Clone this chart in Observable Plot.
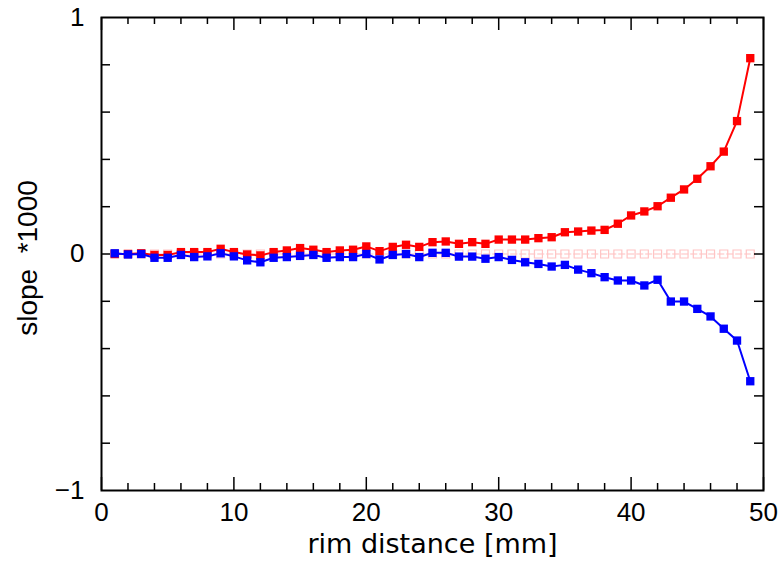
<!DOCTYPE html>
<html>
<head>
<meta charset="utf-8">
<script src="https://cdn.jsdelivr.net/npm/d3@7"></script>
<script src="https://cdn.jsdelivr.net/npm/@observablehq/plot@0.6"></script>
<style>
  html, body { margin: 0; padding: 0; background: #fff; }
  #chart svg { display: block; }
</style>
</head>
<body>
<div id="chart"></div>
<script>
const distance = [1,2,3,4,5,6,7,8,9,10,11,12,13,14,15,16,17,18,19,20,21,22,23,24,25,26,27,28,29,30,31,32,33,34,35,36,37,38,39,40,41,42,43,44,45,46,47,48,49];
const redSlope = [0,0,0.003,-0.004,-0.004,0.008,0.008,0.008,0.022,0.008,
  -0.002,-0.006,0.008,0.015,0.025,0.018,0.008,0.015,0.018,0.032,
  0.012,0.03,0.039,0.03,0.05,0.053,0.043,0.05,0.043,0.061,
  0.061,0.061,0.067,0.071,0.092,0.095,0.099,0.102,0.128,0.163,
  0.18,0.202,0.238,0.273,0.318,0.371,0.433,0.562,0.828];
const blueSlope = [0.003,-0.002,0,-0.016,-0.016,-0.004,-0.013,-0.01,0.003,-0.01,
  -0.027,-0.035,-0.016,-0.013,-0.008,-0.004,-0.016,-0.013,-0.013,0,
  -0.023,-0.004,0,-0.013,0.005,0.005,-0.011,-0.011,-0.02,-0.013,
  -0.025,-0.035,-0.042,-0.053,-0.046,-0.066,-0.081,-0.098,-0.112,-0.112,
  -0.133,-0.109,-0.201,-0.201,-0.232,-0.264,-0.316,-0.366,-0.538];
const refSlope = distance.map(() => 0);
const xMajor = [0,10,20,30,40,50];
const xMinor = [2,4,6,8,12,14,16,18,22,24,26,28,32,34,36,38,42,44,46,48];
const yTicks = [-0.8,-0.6,-0.4,-0.2,0,0.2,0.4,0.6,0.8];
const yLabels = [-1,0,1];
const xTitle = "rim distance [mm]";
const yTitle = "slope  *1000";

const red = distance.map((d, i) => ({x: d, y: redSlope[i]}));
const blue = distance.map((d, i) => ({x: d, y: blueSlope[i]}));
const ref = distance.map((d, i) => ({x: d, y: refSlope[i]}));

const W = 782, H = 563, mL = 101, mR = 19, mT = 17, mB = 73;
const fh = H - mT - mB;

const chart = Plot.plot({
  width: W, height: H,
  marginLeft: mL, marginRight: mR, marginTop: mT, marginBottom: mB,
  style: {fontFamily: "Liberation Sans, Arial, sans-serif", background: "white", color: "black"},
  x: {domain: [0, 50], label: null},
  y: {domain: [-1, 1], label: null},
  marks: [
    // faint reference series
    Plot.line(ref, {x: "x", y: "y", stroke: "#ffd4d4", strokeWidth: 1.5, strokeDasharray: "6,3"}),
    Plot.dot(ref, {x: "x", y: "y", symbol: "square", r: 4.5, stroke: "#ffc4c4", strokeWidth: 1.2, fill: "none"}),
    // series
    Plot.line(red, {x: "x", y: "y", stroke: "#ff0000", strokeWidth: 2}),
    Plot.dot(red, {x: "x", y: "y", symbol: "square", r: 4.7, fill: "#ff0000"}),
    Plot.line(blue, {x: "x", y: "y", stroke: "#0000ff", strokeWidth: 2}),
    Plot.dot(blue, {x: "x", y: "y", symbol: "square", r: 4.7, fill: "#0000ff"}),
    // inner ticks, bottom & top
    Plot.tickX(xMinor, {x: d => d, insetTop: fh - 7, stroke: "black", strokeWidth: 1.5}),
    Plot.tickX(xMajor, {x: d => d, insetTop: fh - 13, stroke: "black", strokeWidth: 1.5}),
    Plot.tickX(xMinor, {x: d => d, insetBottom: fh - 7, stroke: "black", strokeWidth: 1.5}),
    Plot.tickX(xMajor, {x: d => d, insetBottom: fh - 13, stroke: "black", strokeWidth: 1.5}),
    // inner ticks, left & right
    Plot.tickY(yTicks, {y: d => d, insetRight: (W - mL - mR) - 9, stroke: "black", strokeWidth: 1.5}),
    Plot.tickY(yTicks, {y: d => d, insetLeft: (W - mL - mR) - 9, stroke: "black", strokeWidth: 1.5}),
    Plot.frame({stroke: "black", strokeWidth: 2}),
    // tick labels
    Plot.axisX({ticks: xMajor, tickSize: 0, tickPadding: 12, fontSize: 26, tickFormat: d => String(d)}),
    Plot.axisY({ticks: yLabels, tickSize: 0, tickPadding: 17, fontSize: 26, tickFormat: d => d < 0 ? "\u2212" + Math.abs(d) : String(d)}),
    // axis titles
    Plot.text([xTitle], {text: d => d, frameAnchor: "bottom", textAnchor: "middle", dy: 62, fontSize: 27, fontFamily: "DejaVu Sans, sans-serif"}),
    Plot.text([yTitle], {text: d => d, frameAnchor: "left", textAnchor: "middle", dx: -73, dy: 4, rotate: -90, fontSize: 28})
  ]
});
document.getElementById("chart").appendChild(chart);
</script>
</body>
</html>
